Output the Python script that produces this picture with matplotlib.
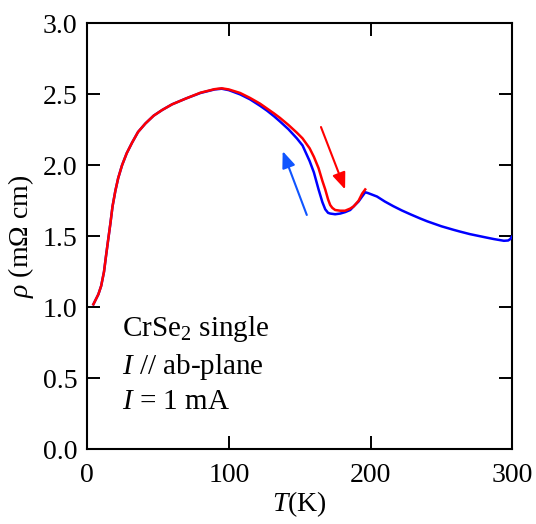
import matplotlib
matplotlib.use('Agg')
import matplotlib.pyplot as plt

plt.rcParams['font.family'] = 'Liberation Serif'
plt.rcParams['mathtext.fontset'] = 'custom'
plt.rcParams['mathtext.rm'] = 'Liberation Serif'
plt.rcParams['mathtext.it'] = 'Liberation Serif:italic'

# blue: full run 4.5 - 300 K
T_blue = [4.5, 6, 8, 10, 12, 13.4, 15, 16.5, 18, 20, 22, 24.7, 28, 31.8, 36,
          41.2, 47, 53, 60, 70, 80, 90, 95, 100, 108, 115, 122, 127, 132, 136,
          142, 148, 152, 157, 160, 163.3, 166, 168, 170, 171.5, 175, 178.6, 182,
          185.6, 188, 191.5, 194, 196.2, 198, 204.5, 210, 216, 222, 228, 235,
          240, 250, 258.6, 263, 270, 282, 287, 294, 297, 298.5, 299.5, 300]
rho_blue = [1.02, 1.05, 1.09, 1.15, 1.25, 1.36, 1.48, 1.59, 1.71, 1.82, 1.91,
            2.0, 2.085, 2.16, 2.235, 2.295, 2.35, 2.39, 2.43, 2.472, 2.51,
            2.535, 2.54, 2.53, 2.50, 2.465, 2.42, 2.385, 2.345, 2.31, 2.255,
            2.19, 2.14, 2.03, 1.95, 1.83, 1.74, 1.69, 1.665, 1.66, 1.655, 1.66,
            1.67, 1.685, 1.71, 1.745, 1.78, 1.81, 1.805, 1.78, 1.745, 1.712,
            1.682, 1.655, 1.625, 1.605, 1.57, 1.545, 1.533, 1.515, 1.49, 1.48,
            1.468, 1.47, 1.48, 1.495, 1.50]

# red: 4.5 - 196 K
T_red = [4.5, 6, 8, 10, 12, 13.4, 15, 16.5, 18, 20, 22, 24.7, 28, 31.8, 36,
         41.2, 47, 53, 60, 70, 80, 90, 95, 100, 108, 115, 122, 127, 132, 136,
         142, 148, 152, 157, 160, 163.3, 166, 168, 170, 171.5, 173, 175, 178.6,
         182, 185.6, 188, 191.5, 194, 196.2]
rho_red = [1.02, 1.05, 1.09, 1.15, 1.25, 1.36, 1.48, 1.59, 1.71, 1.82, 1.91,
           2.0, 2.085, 2.16, 2.235, 2.295, 2.35, 2.39, 2.43, 2.472, 2.512,
           2.537, 2.543, 2.535, 2.51, 2.475, 2.435, 2.40, 2.365, 2.335, 2.285,
           2.23, 2.19, 2.12, 2.06, 1.98, 1.89, 1.83, 1.76, 1.72, 1.70, 1.685,
           1.68, 1.68, 1.695, 1.71, 1.75, 1.80, 1.83]

# arrows: (tail, head) in data coords
red_arrow = ((165, 2.27), (182, 1.83))
blue_arrow = ((155, 1.65), (138, 2.10))

fig = plt.figure(figsize=(5.36, 5.24), dpi=100)
ax = fig.add_axes([0.1623, 0.1431, 0.7937, 0.8121])

ax.plot(T_blue, rho_blue, color='#0000ff', lw=1.8, zorder=3)
ax.plot(T_red, rho_red, color='#ff0000', lw=1.8, zorder=4)

for (tail, head), c in [(red_arrow, '#ff0000'), (blue_arrow, '#1055ff')]:
    ax.annotate('', xy=head, xytext=tail,
                arrowprops=dict(arrowstyle='-|>,head_length=1.0,head_width=0.4',
                                color=c, lw=1.5, shrinkA=0, shrinkB=0))

ax.set_xlim(0, 300)
ax.set_ylim(0, 3.0)
ax.set_xticks([0, 100, 200, 300])
ax.set_yticks([0.0, 0.5, 1.0, 1.5, 2.0, 2.5, 3.0])
ax.set_yticklabels(['0.0', '0.5', '1.0', '1.5', '2.0', '2.5', '3.0'])
ax.tick_params(direction='in', length=9.5, width=1.4, labelsize=20, pad=7,
               top=True, right=True)
ax.tick_params(axis='x', pad=10)
for s in ax.spines.values():
    s.set_linewidth(1.5)

ax.set_xlabel(r'$T$(K)', fontsize=20, labelpad=1)
ax.set_ylabel(r'$\rho$ (mΩ cm)', fontsize=20, labelpad=5)

ax.text(24.5, 0.80, r'CrSe$_2$ single', fontsize=21)
ax.text(24.5, 0.53, r'$I$ // ab-plane', fontsize=21)
ax.text(24.5, 0.285, r'$I$ = 1 mA', fontsize=21)

fig.savefig('out.png', dpi=100)
